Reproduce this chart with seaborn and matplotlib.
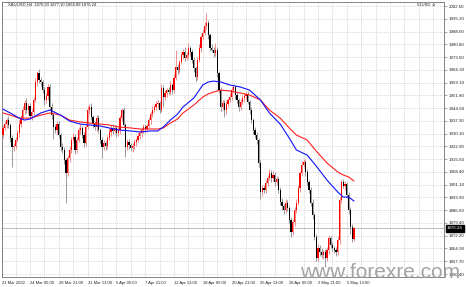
import numpy as np
import pandas as pd
import matplotlib
matplotlib.use("Agg")
import matplotlib.pyplot as plt
import matplotlib.transforms as mtransforms
import seaborn as sns

# ---------------- data ----------------
first_open = 1929.3
closes = [
    1933.3, 1935.5, 1937.8, 1935.0, 1927.6, 1922.5, 1923.0, 1926.4, 1930.4, 1935.5,
    1938.9, 1943.5, 1947.4, 1943.5, 1945.7, 1940.1, 1942.3, 1949.2, 1959.4, 1964.5,
    1960.5, 1959.4, 1954.8, 1949.2, 1951.4, 1956.5, 1945.2, 1940.6, 1933.8, 1932.1,
    1935.5, 1929.3, 1922.5, 1920.8, 1915.1, 1907.7, 1916.2, 1920.8, 1926.4, 1928.2,
    1920.8, 1926.4, 1932.1, 1933.3, 1929.3, 1924.7, 1933.8, 1943.5, 1945.2, 1939.5,
    1935.5, 1933.8, 1938.9, 1932.1, 1926.4, 1922.5, 1924.7, 1923.0, 1927.6, 1931.0,
    1933.3, 1931.6, 1933.3, 1930.4, 1932.1, 1938.9, 1943.5, 1935.0, 1922.5, 1925.3,
    1923.6, 1921.9, 1923.0, 1925.3, 1926.4, 1928.7, 1930.4, 1932.1, 1933.8, 1932.7,
    1934.4, 1937.8, 1941.2, 1943.5, 1945.2, 1946.9, 1947.4, 1943.5, 1956.0, 1950.9,
    1953.1, 1954.8, 1953.7, 1957.7, 1954.8, 1961.6, 1967.9, 1966.2, 1970.7, 1974.7,
    1976.4, 1973.0, 1974.7, 1978.7, 1976.4, 1971.8, 1967.3, 1962.2, 1971.8, 1978.7,
    1984.9, 1987.2, 1991.1, 1992.8, 1986.0, 1978.7, 1977.5, 1975.8, 1977.5, 1964.5,
    1954.8, 1945.2, 1947.4, 1943.5, 1946.9, 1949.2, 1950.9, 1954.8, 1956.5, 1952.0,
    1949.2, 1945.2, 1948.0, 1950.3, 1951.4, 1952.0, 1948.0, 1943.5, 1937.8, 1932.1,
    1929.3, 1926.4, 1913.4, 1896.9, 1899.2, 1898.1, 1902.0, 1904.9, 1907.7, 1904.9,
    1906.6, 1902.6, 1904.3, 1898.1, 1891.3, 1889.0, 1886.7, 1890.7, 1887.9, 1881.1,
    1874.2, 1879.9, 1886.7, 1890.7, 1899.2, 1907.7, 1912.3, 1914.0, 1908.3, 1902.6,
    1898.1, 1890.7, 1883.9, 1871.4, 1859.5, 1865.2, 1862.9, 1861.2, 1862.9, 1859.5,
    1864.0, 1870.8, 1866.9, 1865.2, 1864.0, 1862.9, 1869.7, 1892.4, 1902.6, 1900.3,
    1901.5, 1895.2, 1886.7, 1877.1, 1870.20, 1876.24,
]
upper_wicks = [
    1.5, 2.0, 1.2, 2.5, 1.0, 1.5, 2.0, 1.5, 1.8, 2.2,
    1.5, 2.0, 1.5, 3.0, 2.0, 1.5, 2.0, 1.5, 2.0, 1.1,
    2.5, 1.5, 1.0, 2.0, 1.5, 2.0, 1.5, 2.0, 1.0, 1.5,
    2.0, 1.5, 1.0, 2.0, 1.5, 1.0, 1.5, 2.0, 1.5, 2.5,
    1.5, 2.0, 1.5, 2.0, 1.0, 1.5, 2.0, 2.5, 1.5, 2.0,
    1.0, 1.5, 2.0, 1.5, 1.0, 1.5, 2.0, 1.0, 1.5, 2.0,
    1.5, 2.0, 1.0, 1.5, 2.0, 1.5, 1.2, 1.5, 1.0, 2.0,
    1.5, 1.0, 2.0, 1.5, 1.0, 2.0, 1.5, 1.0, 2.0, 1.5,
    1.0, 2.0, 1.5, 2.5, 1.0, 1.5, 2.0, 1.0, 2.5, 1.5,
    2.0, 1.0, 1.5, 2.0, 1.0, 2.5, 9.6, 1.5, 1.0, 2.0,
    1.5, 3.0, 2.0, 3.0, 1.0, 1.5, 2.0, 1.0, 1.5, 2.0,
    1.5, 2.0, 2.5, 5.7, 1.5, 1.0, 2.0, 1.5, 4.0, 1.5,
    1.0, 2.0, 1.5, 2.0, 1.5, 1.0, 2.0, 1.5, 2.0, 1.0,
    1.5, 1.0, 2.0, 1.5, 2.0, 1.5, 2.0, 1.0, 1.5, 1.0,
    2.0, 1.5, 1.0, 1.5, 2.0, 1.5, 2.0, 1.5, 2.5, 1.5,
    2.0, 1.5, 2.0, 1.0, 1.5, 2.0, 1.0, 2.0, 1.5, 1.0,
    1.5, 2.0, 1.5, 2.0, 1.5, 1.0, 2.0, 1.5, 1.0, 1.5,
    1.0, 1.5, 2.0, 1.0, 1.5, 2.0, 1.5, 2.0, 1.0, 1.5,
    2.0, 1.5, 1.0, 1.5, 1.0, 1.5, 2.0, 1.5, 1.2, 2.0,
    1.5, 1.0, 1.5, 2.0, 1.5, 0.86,
]
lower_wicks = [
    1.5, 1.0, 2.0, 1.5, 2.0, 11.4, 2.0, 1.5, 1.0, 2.0,
    1.5, 1.0, 2.0, 1.5, 2.0, 1.5, 2.5, 1.5, 1.0, 2.0,
    1.5, 2.0, 1.5, 3.0, 1.5, 2.0, 1.5, 2.0, 7.0, 1.5,
    2.0, 1.5, 2.0, 1.5, 2.0, 17.0, 1.5, 2.0, 1.5, 1.0,
    2.5, 1.5, 1.0, 2.0, 1.5, 2.0, 1.5, 1.0, 2.0, 1.5,
    2.0, 1.5, 2.0, 1.5, 2.0, 6.0, 1.5, 2.0, 1.5, 1.0,
    2.0, 1.5, 1.0, 2.0, 1.5, 2.0, 1.5, 2.0, 5.7, 1.5,
    2.0, 1.5, 2.5, 1.5, 2.0, 1.0, 1.5, 2.0, 1.5, 2.0,
    1.5, 1.0, 2.0, 1.5, 1.0, 1.5, 2.0, 1.5, 1.0, 5.7,
    1.5, 2.0, 1.0, 1.5, 2.0, 1.5, 1.0, 2.0, 1.5, 1.0,
    2.0, 1.5, 1.0, 1.5, 2.0, 1.5, 2.0, 2.5, 1.5, 1.0,
    2.0, 1.5, 1.0, 1.5, 2.0, 1.5, 1.0, 2.0, 1.5, 2.0,
    1.5, 2.0, 1.5, 4.0, 2.0, 1.5, 1.0, 2.0, 1.5, 2.0,
    1.5, 2.0, 1.5, 1.0, 2.0, 1.5, 1.0, 2.0, 1.5, 2.0,
    1.5, 2.0, 2.5, 4.0, 2.0, 1.5, 2.0, 1.5, 1.0, 2.0,
    1.5, 2.0, 1.5, 2.0, 1.5, 2.0, 2.5, 1.5, 2.0, 1.5,
    3.0, 1.5, 2.0, 1.5, 1.0, 2.0, 1.5, 1.0, 2.0, 1.5,
    2.0, 1.5, 2.0, 1.5, 2.0, 1.5, 2.0, 1.5, 2.0, 5.0,
    1.5, 2.0, 1.5, 2.0, 1.5, 2.0, 1.5, 2.0, 1.5, 1.0,
    2.0, 1.5, 2.0, 4.0, 1.5, 1.31,
]

# moving averages sampled along the bars
ma_bars = [0, 4, 9, 12, 15, 21, 26, 32, 37, 43, 48, 54, 59, 65, 71, 76, 82, 86, 89, 93, 97,
           100, 106, 111, 114, 117, 121, 126, 132, 137, 143, 148, 154, 159, 163, 169, 174,
           180, 186, 189, 192, 195]
ma_blue = [1944.0, 1941.8, 1938.9, 1937.8, 1938.4, 1941.8, 1943.5, 1940.6, 1937.2, 1935.5,
           1935.0, 1934.4, 1933.3, 1932.1, 1931.6, 1931.0, 1931.6, 1931.6, 1933.8, 1937.8,
           1941.2, 1945.2, 1950.3, 1957.7, 1959.4, 1959.9, 1959.4, 1957.7, 1956.5, 1954.8,
           1949.2, 1941.8, 1935.5, 1927.6, 1920.8, 1917.9, 1911.7, 1903.7, 1896.9, 1894.1,
           1894.1, 1891.8]
ma_red = [1941.8, 1940.6, 1938.9, 1938.9, 1938.9, 1940.6, 1941.8, 1940.6, 1937.8, 1936.7,
          1936.1, 1935.5, 1935.0, 1933.8, 1933.3, 1932.7, 1932.7, 1932.7, 1933.3, 1936.1,
          1938.4, 1941.8, 1946.3, 1950.9, 1952.6, 1953.7, 1954.8, 1954.3, 1953.1, 1952.0,
          1949.2, 1943.5, 1938.9, 1933.3, 1929.3, 1926.4, 1920.2, 1913.4, 1908.3, 1906.6,
          1905.5, 1903.2]

price_ticks = [2002.50, 1995.30, 1988.00, 1980.80, 1973.50, 1966.30, 1959.10, 1951.80,
               1944.60, 1937.30, 1930.10, 1922.90, 1915.60, 1908.40, 1901.10, 1893.90,
               1886.60, 1879.40, 1872.20, 1864.90, 1857.70, 1850.40]
time_labels = ["21 Mar 2022", "24 Mar 05:00", "28 Mar 21:00", "31 Mar 13:00", "5 Apr 05:00",
               "7 Apr 21:00", "12 Apr 13:00", "18 Apr 05:00", "20 Apr 21:00", "25 Apr 13:00",
               "28 Apr 05:00", "2 May 21:00", "5 May 13:00"]
time_label_bars = [-0.5, 15, 31, 47, 63, 79, 95, 111, 127, 143, 159, 175, 191]
header_text = "XAUUSD,H4  1870.20 1877.10 1868.89 1876.24"
last_price = 1876.24
watermark = "www.forexre.com"

# ---------------- figure ----------------
sns.set_style("white")
plt.rcParams['font.family'] = ['Liberation Sans', 'DejaVu Sans']

W, H = 466, 287
fig = plt.figure(figsize=(W / 100, H / 100), dpi=100)
ax = fig.add_axes([2 / W, 10 / H, 442 / W, 275 / H])

n = len(closes)
idx = np.arange(n)
c = np.array(closes)
o = np.array([first_open] + closes[:-1])
hi = np.maximum(o, c) + np.array(upper_wicks)
lo = np.minimum(o, c) - np.array(lower_wicks)
bull = c >= o

# grid
for p in price_ticks:
    ax.axhline(p, color="#c8c8c8", lw=0.5, ls=(0, (1.5, 1.5)), zorder=0)
for b in np.arange(7, 246, 8):
    ax.axvline(b, color="#c8c8c8", lw=0.5, ls=(0, (1.5, 1.5)), zorder=0)

# bid line
ax.axhline(last_price, color="#b0b0b0", lw=0.6, zorder=1)

# candles
wick_cols = np.where(bull, "#f07070", "#808080")
ax.vlines(idx, lo, hi, colors=wick_cols, lw=0.55, zorder=2)
body_bottom = np.minimum(o, c)
body_h = np.maximum(np.abs(c - o), 0.35)
ax.bar(idx, body_h, bottom=body_bottom, width=0.72,
       color=np.where(bull, "#ff0000", "#000000"), linewidth=0, zorder=3)

# moving averages
ma_df = pd.DataFrame({"bar": ma_bars, "blue": ma_blue, "red": ma_red})
sns.lineplot(data=ma_df, x="bar", y="red", color="#ff2020", lw=0.8, ax=ax, zorder=4)
sns.lineplot(data=ma_df, x="bar", y="blue", color="#1010ff", lw=0.8, ax=ax, zorder=4)

ax.set_xlim(-0.56, 245)
ax.set_ylim(1848.7, 2004.8)
ax.set_xlabel("")
ax.set_ylabel("")

# axes styling
for s in ax.spines.values():
    s.set_color("#707070")
    s.set_linewidth(0.6)
ax.yaxis.tick_right()
ax.set_yticks(price_ticks)
ax.set_yticklabels([f"{p:.2f}" for p in price_ticks], fontsize=3.2, color="#202020")
ax.tick_params(axis="y", length=2, width=0.4, pad=1.2, color="#606060")
ax.set_xticks(time_label_bars)
ax.set_xticklabels(time_labels, fontsize=3.0, color="#202020", ha="left")
ax.tick_params(axis="x", length=2, width=0.4, pad=1.0, color="#606060")

# current price box
trans = mtransforms.blended_transform_factory(ax.transAxes, ax.transData)
ax.text(1.007, last_price, f"{last_price:.2f}", transform=trans, fontsize=3.2,
        color="white", va="center", ha="left",
        bbox=dict(boxstyle="square,pad=0.25", fc="black", ec="black"), zorder=10)

# header texts
fig.text(8 / W, 1 - 5 / H, header_text, fontsize=3.0, color="#202020", va="center", ha="left")
fig.text(436 / W, 1 - 5 / H, "51USD \u263a", fontsize=3.0, color="#202020", va="center",
         ha="right")

# watermark
fig.text(300 / W, 1 - 278 / H, watermark, fontsize=15, color="#9a9a9a", alpha=0.9,
         ha="left", va="baseline")

fig.savefig("out.png", dpi=100)
